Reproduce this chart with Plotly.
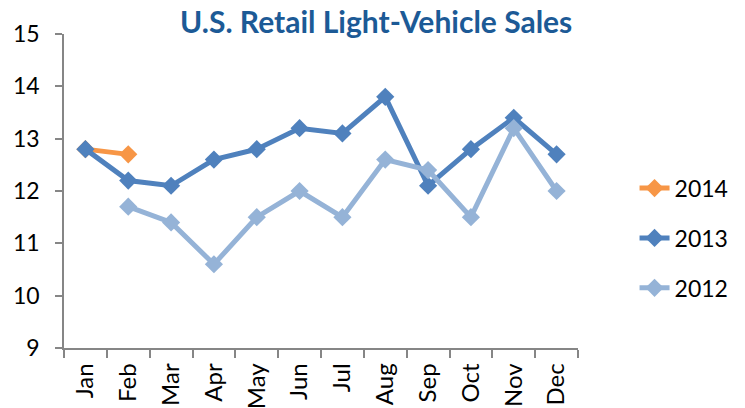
import plotly.graph_objects as go

months = ["Jan", "Feb", "Mar", "Apr", "May", "Jun", "Jul", "Aug", "Sep", "Oct", "Nov", "Dec"]
sales_2014 = [12.8, 12.7, None, None, None, None, None, None, None, None, None, None]
sales_2013 = [12.8, 12.2, 12.1, 12.6, 12.8, 13.2, 13.1, 13.8, 12.1, 12.8, 13.4, 12.7]
sales_2012 = [None, 11.7, 11.4, 10.6, 11.5, 12.0, 11.5, 12.6, 12.4, 11.5, 13.2, 12.0]

series = [
    ("2014", sales_2014, "#F79646"),
    ("2013", sales_2013, "#4F81BD"),
    ("2012", sales_2012, "#95B3D7"),
]

FONT = "Lato"

fig = go.Figure()
for name, vals, color in series:
    fig.add_trace(go.Scatter(
        x=months, y=vals, name=name, mode="lines+markers",
        line=dict(color=color, width=5),
        marker=dict(symbol="diamond", size=14, color=color),
        legendgroup=name, connectgaps=False,
    ))

fig.update_layout(
    width=745, height=408,
    margin=dict(l=64, r=165, t=34, b=60),
    paper_bgcolor="white", plot_bgcolor="white",
    font=dict(family=FONT, size=22, color="black"),
    title=dict(
        text="<b>U.S. Retail Light-Vehicle Sales</b>",
        font=dict(family=FONT, size=30, color="#1C5A96"),
        xref="container", x=0.505, xanchor="center",
        yref="container", y=0.946, yanchor="middle",
    ),
    showlegend=True,
    legend=dict(
        x=1.11, xanchor="left", y=0.35, yanchor="middle",
        font=dict(family=FONT, size=23, color="black"),
        tracegroupgap=17, bgcolor="rgba(0,0,0,0)",
    ),
)

fig.update_xaxes(
    type="category", categoryorder="array", categoryarray=months,
    range=[-0.5, 11.5], showgrid=False, zeroline=False,
    showline=True, linecolor="#868686", linewidth=1.5,
    ticks="outside", tickson="boundaries", ticklen=8, tickcolor="#868686", tickwidth=1.5,
    tickangle=-90, tickfont=dict(family=FONT, size=24), ticklabelstandoff=4,
    automargin=False,
)
fig.update_yaxes(
    range=[9, 15], dtick=1, showgrid=False, zeroline=False,
    showline=True, linecolor="#868686", linewidth=1.5,
    ticks="outside", ticklen=7, tickcolor="#868686", tickwidth=1.5,
    tickfont=dict(family=FONT, size=23), ticklabelstandoff=11, automargin=False,
)

fig.write_html(
    "out.html",
    config={"displayModeBar": False},
    post_script="document.body.style.margin='0';",
)
